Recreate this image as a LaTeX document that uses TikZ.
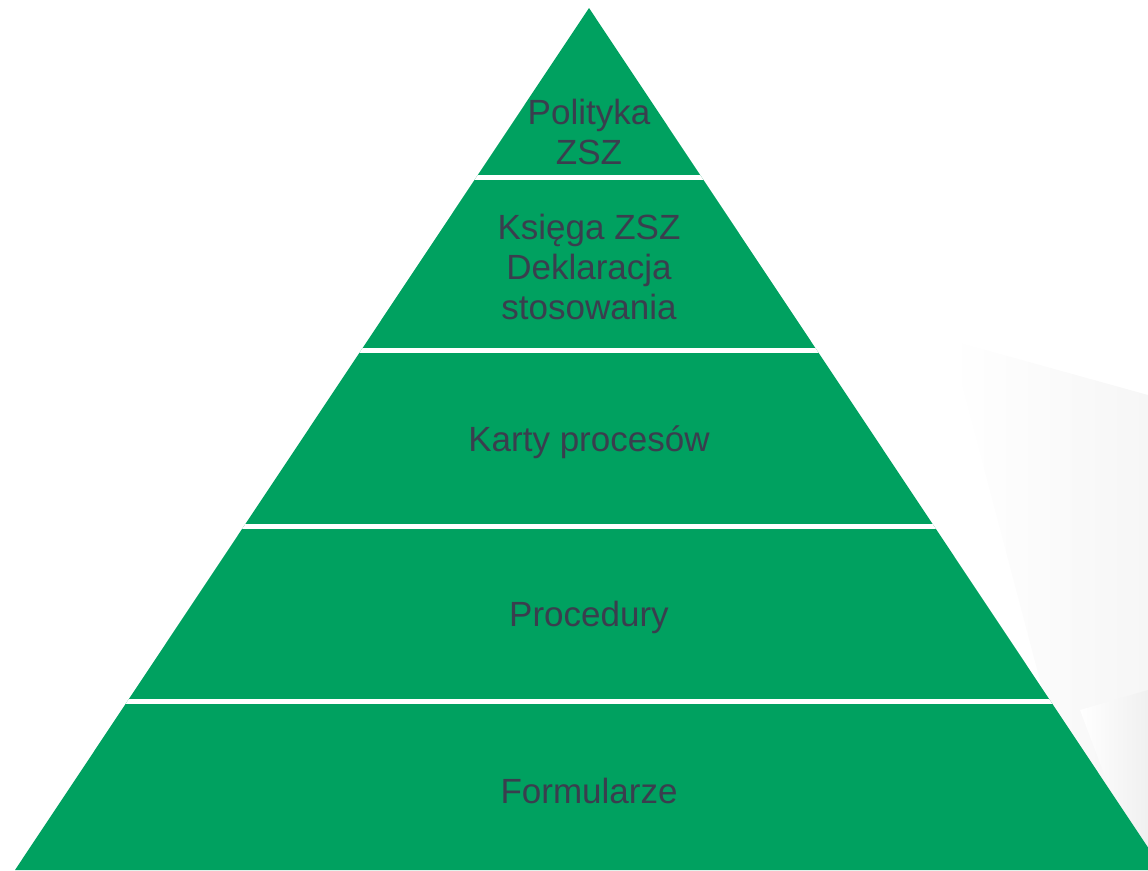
\documentclass[tikz,border=0pt]{standalone}
\usepackage{fontspec}
\setmainfont{Liberation Sans}
\usepackage{tikz}

\definecolor{pyrgreen}{RGB}{0,161,96}
\definecolor{pyrtext}{RGB}{58,62,78}

\begin{document}
\begin{tikzpicture}[x=1pt, y=-1pt,
	label/.style={text=pyrtext, align=center, font=\fontsize{35}{40}\selectfont},
	gap/.style={white, line width=5pt}]
	\useasboundingbox (0,0) rectangle (1148,870);
	% faint background swoosh
	\shade[left color=white, right color=gray!7] (950,340) -- (1148,395) -- (1148,870) -- (1090,870) -- cycle;
	\shade[left color=white, right color=gray!12] (1080,710) -- (1148,690) -- (1148,870) -- (1140,870) -- cycle;

	\coordinate (top) at (589,8);
	\coordinate (bl) at (15,870);
	\coordinate (br) at (1163,870);
	\fill[pyrgreen] (top) -- (bl) -- (br) -- cycle;
	\begin{scope}
		\clip (top) -- (bl) -- (br) -- cycle;
		\draw[gap] (0,177.5) -- (1148,177.5);
		\draw[gap] (0,350.5) -- (1148,350.5);
		\draw[gap] (0,526) -- (1148,526);
		\draw[gap] (0,701) -- (1148,701);
	\end{scope}

	\node[label] (1) at (589,132) {Polityka\\ZSZ};
	\node[label] (2) at (589,267) {Księga ZSZ\\Deklaracja\\stosowania};
	\node[label] (3) at (589,442) {Karty procesów};
	\node[label] (4) at (589,617) {Procedury};
	\node[label] (5) at (589,791) {Formularze};
\end{tikzpicture}
\end{document}
